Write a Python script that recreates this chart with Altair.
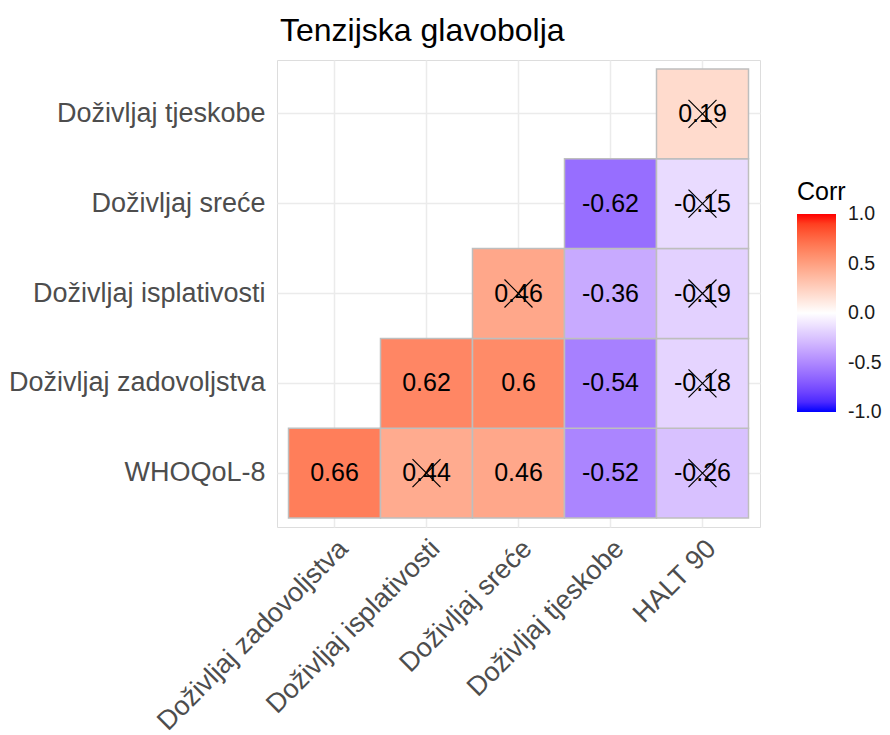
import altair as alt
import pandas as pd

x_order = ["Doživljaj zadovoljstva", "Doživljaj isplativosti", "Doživljaj sreće",
           "Doživljaj tjeskobe", "HALT 90"]
y_order = ["Doživljaj tjeskobe", "Doživljaj sreće", "Doživljaj isplativosti",
           "Doživljaj zadovoljstva", "WHOQoL-8"]  # top to bottom

var_x = ["Doživljaj zadovoljstva", "Doživljaj isplativosti", "Doživljaj sreće", "Doživljaj tjeskobe", "HALT 90",
         "Doživljaj isplativosti", "Doživljaj sreće", "Doživljaj tjeskobe", "HALT 90",
         "Doživljaj sreće", "Doživljaj tjeskobe", "HALT 90",
         "Doživljaj tjeskobe", "HALT 90",
         "HALT 90"]
var_y = ["WHOQoL-8", "WHOQoL-8", "WHOQoL-8", "WHOQoL-8", "WHOQoL-8",
         "Doživljaj zadovoljstva", "Doživljaj zadovoljstva", "Doživljaj zadovoljstva", "Doživljaj zadovoljstva",
         "Doživljaj isplativosti", "Doživljaj isplativosti", "Doživljaj isplativosti",
         "Doživljaj sreće", "Doživljaj sreće",
         "Doživljaj tjeskobe"]
corr = [0.66, 0.44, 0.46, -0.52, -0.26,
        0.62, 0.60, -0.54, -0.18,
        0.46, -0.36, -0.19,
        -0.62, -0.15,
        0.19]
insignificant = [False, True, False, False, True,
                 False, False, False, True,
                 True, False, True,
                 False, True,
                 True]
legend_values = [-0.9999, -0.5, 0, 0.5, 0.9999]

df = pd.DataFrame({
    "Var1": var_x,
    "Var2": var_y,
    "Corr": corr,
    "insig": insignificant,
})
df["lab"] = [f"{v:g}" for v in corr]

FONT = "Liberation Sans"

x_enc = alt.X("Var1:N", sort=x_order, title=None,
              scale=alt.Scale(paddingInner=0, paddingOuter=0.125),
              axis=alt.Axis(labelAngle=-45, labelAlign="right", labelBaseline="top",
                            labelPadding=8, labelFontSize=27, labelColor="#4D4D4D",
                            labelFont=FONT, ticks=False, domain=False, grid=True,
                            gridColor="#EBEBEB", gridWidth=1.5, bandPosition=0.5,
                            labelLimit=400, zindex=0))
y_enc = alt.Y("Var2:N", sort=y_order, title=None,
              scale=alt.Scale(paddingInner=0, paddingOuter=0.1),
              axis=alt.Axis(labelPadding=12, labelFontSize=27, labelColor="#4D4D4D",
                            labelFont=FONT, ticks=False, domain=False, grid=True,
                            gridColor="#EBEBEB", gridWidth=1.5, bandPosition=0.5,
                            labelLimit=400, zindex=0))

base = alt.Chart(df)

tiles = base.mark_rect(stroke="#BEBEBE", strokeWidth=1.5, opacity=1).encode(
    x=x_enc,
    y=y_enc,
    color=alt.Color("Corr:Q",
                    scale=alt.Scale(domain=[-1, 0, 1], range=["#0000FF", "#FFFFFF", "#FF0000"],
                                    interpolate="lab"),
                    legend=alt.Legend(title="Corr", orient="none", legendX=520, legendY=120,
                                      gradientLength=198, gradientThickness=39,
                                      values=legend_values,
                                      labelExpr="(datum.value < 0 ? '-' : '') + format(abs(datum.value), '.1f')",
                                      labelFontSize=19.5, labelColor="#1A1A1A", labelFont=FONT,
                                      labelOffset=12,
                                      titleFontSize=25, titleColor="#000000", titleFont=FONT,
                                      titleFontWeight="normal", titlePadding=9,
                                      gradientStrokeWidth=0)),
)

labels = base.mark_text(fontSize=25, font=FONT, color="#000000").encode(
    x=alt.X("Var1:N", sort=x_order),
    y=alt.Y("Var2:N", sort=y_order),
    text="lab:N",
)

crosses = base.transform_filter("datum.insig").mark_point(
    shape="M-1,-1L1,1M-1,1L1,-1", size=784, filled=False, stroke="#000000",
    strokeWidth=1.2, opacity=1,
).encode(
    x=alt.X("Var1:N", sort=x_order),
    y=alt.Y("Var2:N", sort=y_order),
)

chart = alt.layer(tiles, labels, crosses).properties(
    width=483,
    height=467,
    padding={"left": 0, "top": 7, "right": 0, "bottom": 5},
    title=alt.TitleParams("Tenzijska glavobolja", anchor="start", frame="group",
                          fontSize=32, font=FONT,
                          fontWeight="normal", color="#000000", dx=3, offset=12),
).configure_view(stroke=None).configure(background="#FFFFFF")

chart.save("out.html", embed_options={"renderer": "svg", "actions": False})
